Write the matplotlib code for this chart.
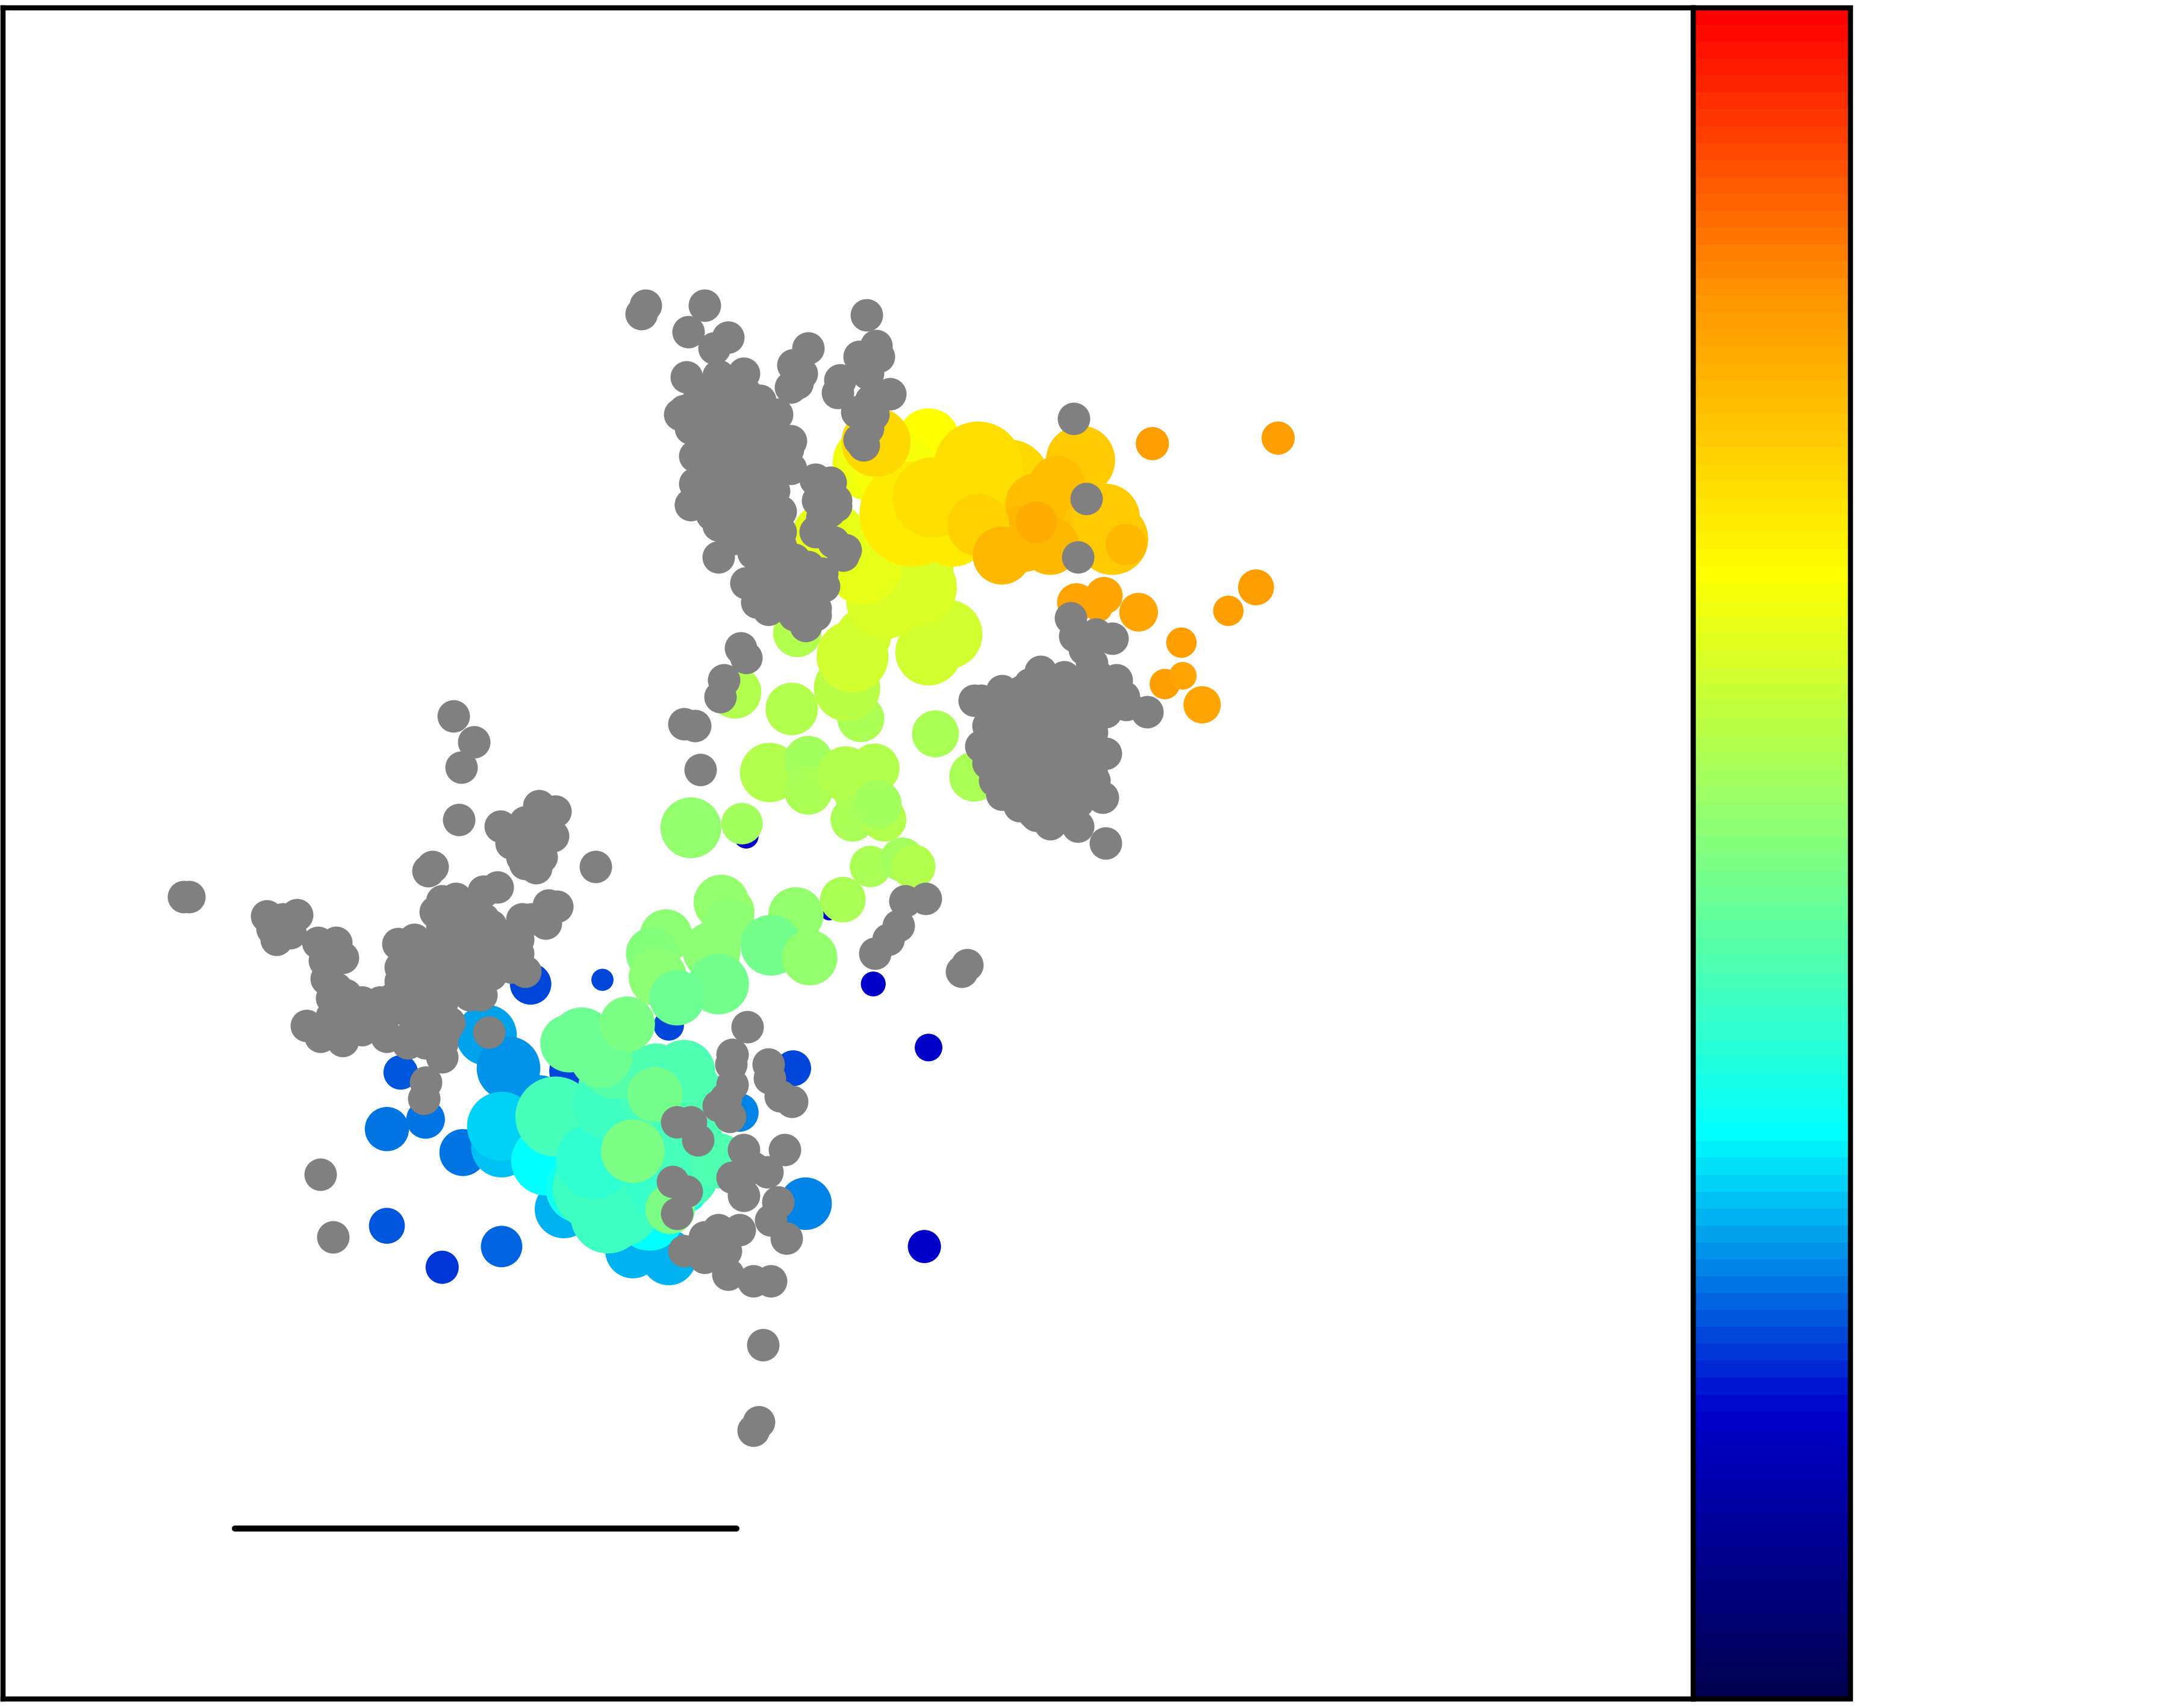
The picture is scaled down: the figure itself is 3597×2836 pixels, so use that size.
import numpy as np
import matplotlib as mpl
mpl.use("Agg")
import matplotlib.pyplot as plt
from matplotlib.colors import LinearSegmentedColormap, Normalize

# gray points, no value attached (x, y in map units)
gray_north_x = [467,464,510,498,527,517,585,627,622,634,636,574,580,572,577,608,606,628,644,630,620,632,628,622,625,
                497,520,538,527,505,495,492,510,535,550,562,545,505,520,540,565,570,503,525,545,565,503,520,540,555,
                500,515,535,555,520,540,560,590,600,592,605,595,590,603,612,610,520,545,565,575,545,560,540,595,590,
                548,565,585,575,590,583,536,540,524,521,495,503,507,
                510,525,540,550,515,530,510,525,545,555,515,530,545,510,525,545,560,560,572,572,
                530,550,565,530,550,565,570,555,585,555,570,580,605,601,594,596,556,583,505,504,500,
                555,565,550,505,500,535,560,580,590,600]
gray_north_y = [221,227,221,240,244,252,252,228,258,250,258,264,270,280,277,275,284,270,285,290,298,300,310,318,322,
                273,272,270,285,290,297,300,300,295,300,300,310,312,315,315,318,325,330,335,330,340,350,350,350,345,
                365,372,365,365,380,385,380,347,350,362,362,375,385,392,398,402,403,400,395,405,420,420,422,415,425,
                436,435,430,445,445,453,469,476,492,504,524,525,557,
                285,300,285,290,300,315,325,325,325,315,340,345,345,360,360,360,355,335,319,339,
                375,375,370,390,390,385,410,410,410,430,425,420,366,349,417,424,441,449,331,350,365,
                320,330,305,300,310,280,365,435,440,370]

gray_east_x = [753,775,778,793,805,785,790,808,800,815,830,710,725,740,760,780,720,750,780,800,710,730,760,785,800,
               720,745,770,790,740,755,780,798,750,760,780,800,735,715,777,786,780,
               735,750,765,790,735,765,720,745,775,790,720,735,750,765,780,730,760,775,785,725,745,770,750,765,795,
               735,755,725,770,792,813,738,748,722,711,
               760,770,775,745,755,740,765,730,790,780,795,715,705,725]
gray_east_y = [486,447,460,459,462,470,480,492,500,510,515,507,500,500,495,495,520,520,520,515,540,535,540,540,545,
               565,560,565,560,580,585,580,577,590,596,598,610,575,552,303,361,403,
               510,505,505,505,520,520,535,535,530,530,550,550,550,550,552,565,575,575,570,505,495,490,570,535,490,
               545,530,575,590,565,504,583,588,566,540,
               515,505,545,515,560,545,575,505,545,510,505,525,507,530]

gray_west_x = [328,343,334,332,313,310,362,390,402,375,390,400,370,385,380,388,431,133,137,193,205,215,197,200,210,
               230,243,248,235,236,243,240,250,222,232,245,255,248,262,275,285,295,310,280,295,310,325,320,320,308,
               307,350,360,320,330,315,335,325,288,300,320,340,350,310,330,355,348,380,365,375,385,397,403,395,378,354,
               330,345,320,305,320,335,345,360,365,300,290,310,320,335,325,300,305,300,315,297,355,350,375,265,262,
               240,250,245,260,350,370,340,380,395,378,392,
               300,290,340,355,275,285,310,350,322,308]
gray_west_y = [518,537,555,593,627,630,598,583,587,605,600,605,610,615,625,628,627,649,649,663,665,662,672,680,675,
               682,682,693,695,708,715,722,720,742,750,745,745,753,725,725,730,720,715,750,755,750,740,755,765,783,
               795,645,642,652,650,660,665,675,683,680,685,685,690,700,700,705,720,703,695,680,665,655,656,668,665,747,
               660,675,670,690,700,690,700,690,680,700,710,725,725,710,715,730,740,745,735,750,680,665,690,735,745,
               735,735,725,735,700,700,720,595,600,620,620,
               690,700,655,670,735,722,740,680,745,755]

gray_south_x = [541,530,529,556,557,565,573,530,525,520,528,490,500,505,538,568,530,545,555,538,487,497,490,563,558,
                569,535,520,510,495,510,525,527,545,558,552,549,545,232,241,
                655,670,650,643,633,696,700]
gray_south_y = [743,763,770,770,780,793,797,785,795,800,808,812,812,825,832,832,852,845,848,865,855,862,878,870,883,
                896,890,890,895,905,910,905,922,927,927,973,1029,1035,850,895,
                652,650,670,680,690,703,698]

# colored points, drawn in this order
pt_x = [384,436,632,672,669,484,450,574,415,520,320,363,280,290,308,280,335,352,368,390,535,583,540,600,
        458,484,408,363,363,395,420,470,495,
        505,470,448,500,495,
        450,430,440,470,402,430,440,480,490,470,500,500,520,495,445,475,
        412,421,435,454,474,458,485,
        522,527,576,528,558,586,515,520,482,472,476,490,
        500,537,630,653,661,610,557,585,585,612,633,622,617,640,635,705,677,623,573,532,577,
        613,617,625,672,686,640,665,660,625,600,
        672,630,650,660,634,690,675,730,708,775,800,805,782,765,750,740,708,725,760,750,815,
        925,834,909,889,855,843,856,870,824,799,779,795]
pt_y = [712,709,712,758,902,742,738,773,775,790,917,902,887,776,810,817,834,749,773,800,805,871,605,660,
        905,910,875,830,815,840,860,880,860,
        800,805,790,835,850,
        875,860,880,840,808,840,800,860,820,790,790,840,840,775,770,775,
        755,752,765,741,792,833,875,
        653,660,662,668,684,693,688,712,677,690,707,722,
        599,596,627,622,627,651,559,550,572,560,556,570,593,593,582,562,531,520,513,501,458,
        498,475,460,472,459,435,425,410,410,390,
        318,335,345,372,320,385,360,348,337,370,375,390,333,350,365,390,380,402,395,378,394,
        317,321,425,442,465,495,489,510,443,431,436,440]
pt_size = [30,16,18,20,24,22,28,26,35,22,24,30,26,25,28,32,34,44,46,44,28,38,18,12,
           40,40,42,44,50,50,50,50,36,
           50,55,60,55,50,
           54,60,54,50,58,55,50,50,50,45,45,45,40,45,50,40,
           42,46,45,40,40,46,36,
           40,38,40,36,44,40,42,44,38,38,42,40,
           44,30,30,32,32,33,43,35,35,40,36,40,32,32,35,36,34,34,38,38,35,
           48,52,40,48,50,55,55,60,55,55,
           45,55,62,76,50,50,58,60,64,50,50,52,50,40,45,48,45,42,42,30,30,
           24,24,26,22,22,22,20,27,28,27,28,20]
pt_value = [.215,.21,.165,.165,.165,.21,.20,.21,.21,.20,.20,.235,.225,.225,.245,.245,.245,.27,.265,.265,.255,.255,.165,.165,
            .28,.28,.285,.295,.305,.335,.35,.335,.34,
            .43,.43,.43,.43,.42,
            .41,.41,.41,.39,.42,.39,.41,.40,.42,.42,.43,.42,.43,.43,.44,.43,
            .47,.47,.47,.49,.485,.49,.49,
            .52,.52,.52,.51,.48,.52,.51,.48,.51,.50,.51,.47,
            .52,.54,.55,.54,.56,.55,.565,.545,.55,.565,.565,.565,.55,.565,.54,.55,.555,.55,.57,.57,.57,
            .58,.60,.60,.60,.60,.61,.61,.61,.635,.636,
            .66,.645,.65,.697,.727,.69,.719,.72,.717,.755,.747,.747,.742,.762,.76,.77,.738,.778,.778,.795,.77,
            .81,.81,.81,.81,.81,.81,.80,.80,.80,.80,.805,.80]

bar_x = [170, 533]
bar_y = [1106, 1106]

scale = 3598 / 1568  # pixels per map unit
dpi = 100
cmap = LinearSegmentedColormap.from_list(
    "map", [(0, "#000050"), (1/6, "#0000cc"), (1/3, "#00ffff"), (1/2, "#80ff80"),
            (2/3, "#ffff00"), (5/6, "#ff9400"), (1, "#ff0000")], N=100)
norm = Normalize(0, 1)


def to_s(d):
    # diameter in map units -> scatter area
    return (np.asarray(d) * scale * 72 / dpi) ** 2


fig = plt.figure(figsize=(35.98, 28.36), dpi=dpi)
W, H = 3598, 2836
L, R, T, B = 5, 2812, 13, 2821
ax = fig.add_axes([L / W, 1 - B / H, (R - L) / W, (B - T) / H])
ax.set_xlim(L / scale, R / scale)
ax.set_ylim(B / scale, T / scale)
ax.set_xticks([])
ax.set_yticks([])
for sp in ax.spines.values():
    sp.set_linewidth(6.1)

ax.scatter(pt_x, pt_y, s=to_s(pt_size), c=pt_value, cmap=cmap, norm=norm, linewidths=0, zorder=2)
gray_x = gray_north_x + gray_east_x + gray_west_x + gray_south_x
gray_y = gray_north_y + gray_east_y + gray_west_y + gray_south_y
ax.scatter(gray_x, gray_y, s=to_s(23.5), c="#808080", linewidths=0, zorder=3)
ax.plot(bar_x, bar_y, color="k", lw=7.2, solid_capstyle="round", zorder=4)

cax = fig.add_axes([R / W, 1 - B / H, (3073 - R) / W, (B - T) / H])
cb = mpl.colorbar.Colorbar(cax, cmap=cmap, norm=norm, ticks=[])
cb.outline.set_linewidth(6.1)

fig.savefig("out.png", dpi=dpi)
